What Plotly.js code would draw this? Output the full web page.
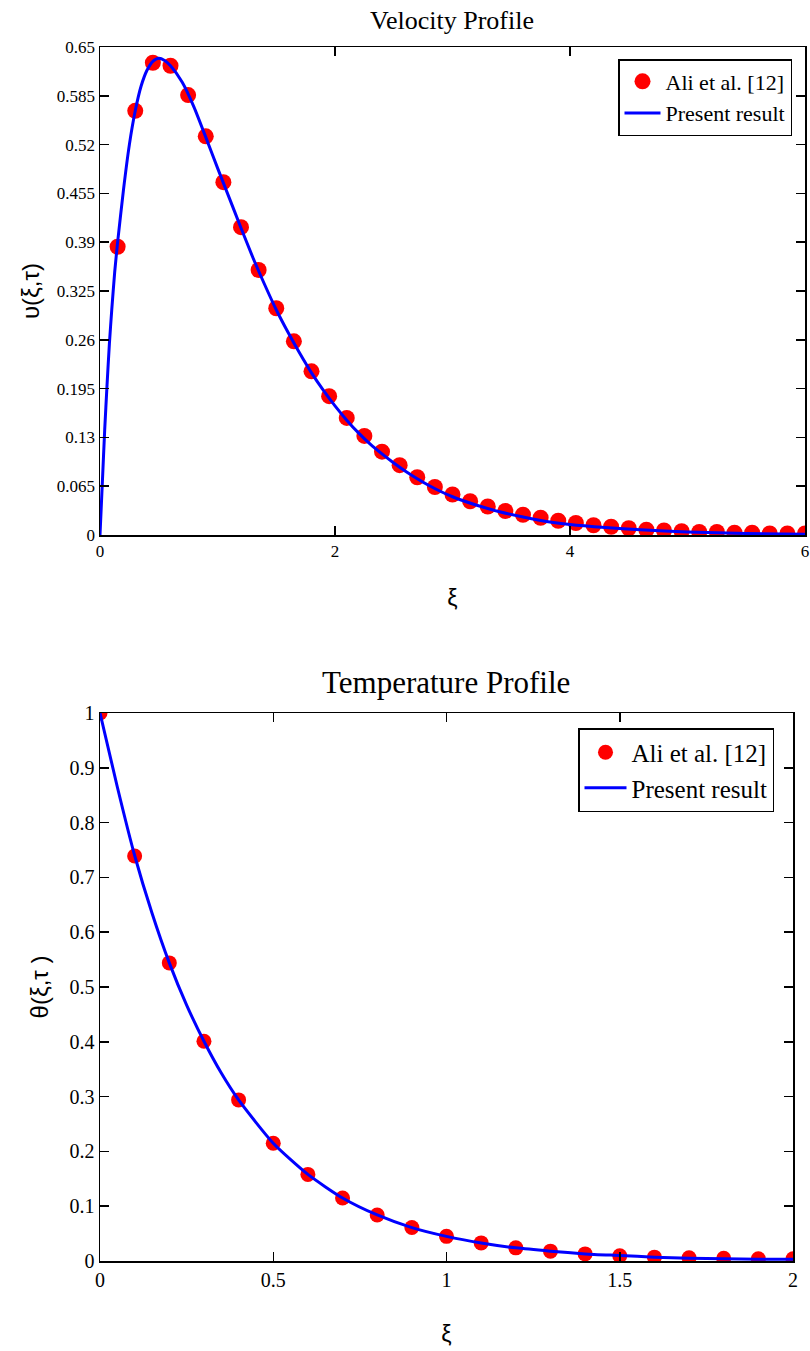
<!DOCTYPE html>
<html><head><meta charset="utf-8">
<script src="https://cdn.plot.ly/plotly-3.0.1.min.js"></script>
<style>html,body{margin:0;padding:0;background:#fff}</style>
</head><body><div id="chart" style="width:810px;height:1351px"></div>
<script>
// ---- Velocity profile data ----
const velAliXi = [0.15,0.3,0.45,0.6,0.75,0.9,1.05,1.2,1.35,1.5,1.65,1.8,1.95,2.1,2.25,2.4,2.55,2.7,2.85,3.0,
  3.15,3.3,3.45,3.6,3.75,3.9,4.05,4.2,4.35,4.5,4.65,4.8,4.95,5.1,5.25,5.4,5.55,5.7,5.85,6.0];
const velAliU = [0.384,0.565,0.629,0.625,0.586,0.531,0.470,0.410,0.353,0.302,0.258,0.218,0.185,0.156,0.132,0.111,0.093,0.077,0.064,0.054,
  0.045,0.038,0.032,0.027,0.023,0.019,0.016,0.013,0.011,0.009,0.007,0.006,0.005,0.004,0.004,0.003,0.003,0.002,0.002,0.002];
const velCurveXi = [0,0.02,0.04,0.06,0.08,0.1,0.125,0.15,0.2,0.25,0.3,0.35,0.4,0.45,0.5,0.55,0.6,0.7,0.8,0.9,1.0,
  1.1,1.2,1.3,1.4,1.5,1.6,1.7,1.8,1.9,2.0,2.1,2.2,2.3,2.4,2.5,2.6,2.7,2.8,2.9,3.0,3.2,3.4,3.6,3.8,4.0,4.3,4.6,5.0,5.5,6.0];
const velCurveU = [0,0.07,0.14,0.2,0.255,0.3,0.35,0.39,0.46,0.52,0.565,0.598,0.619,0.631,0.635,0.632,0.625,0.603,0.570,0.530,0.489,
  0.449,0.409,0.370,0.334,0.300,0.270,0.242,0.216,0.193,0.172,0.153,0.136,0.121,0.108,0.096,0.085,0.075,0.066,0.058,0.051,0.040,0.031,0.024,0.018,0.014,0.010,0.007,0.004,0.002,0.001];
const velXTicks = [0,2,4,6];
const velYTickVals = [0,0.065,0.13,0.195,0.26,0.325,0.39,0.455,0.52,0.585,0.65];
const velYTickText = ['0','0.065','0.13','0.195','0.26','0.325','0.39','0.455','0.52','0.585','0.65'];

// ---- Temperature profile data ----
const tempAliXi = [0,0.1,0.2,0.3,0.4,0.5,0.6,0.7,0.8,0.9,1.0,1.1,1.2,1.3,1.4,1.5,1.6,1.7,1.8,1.9,2.0];
const tempAliTheta = [1.0,0.739,0.544,0.401,0.294,0.215,0.158,0.115,0.084,0.061,0.045,0.033,0.024,0.018,0.013,0.0095,0.007,0.006,0.005,0.004,0.004];
const tempCurveXi = [0,0.05,0.1,0.15,0.2,0.25,0.3,0.35,0.4,0.5,0.6,0.7,0.8,0.9,1.0,1.1,1.2,1.3,1.4,1.5,1.6,1.7,1.8,1.9,2.0];
const tempCurveTheta = [1,0.865,0.74,0.635,0.544,0.467,0.401,0.343,0.294,0.215,0.158,0.115,0.084,0.061,0.045,0.033,0.024,0.018,0.013,0.010,0.007,0.005,0.004,0.003,0.003];
const tempXTicks = [0,0.5,1,1.5,2];
const tempXTickText = ['0','0.5','1','1.5','2'];
const tempYTicks = [0,0.1,0.2,0.3,0.4,0.5,0.6,0.7,0.8,0.9,1];
const tempYTickText = ['0','0.1','0.2','0.3','0.4','0.5','0.6','0.7','0.8','0.9','1'];

const seriesNames = ['Ali et al. [12]', 'Present result'];
const titles = ['Velocity Profile', 'Temperature Profile'];

const SERIF = 'Liberation Serif, Times New Roman, serif';
const SANS = 'Liberation Sans, Arial, sans-serif';

const traces = [
  {x: velAliXi, y: velAliU, xaxis:'x', yaxis:'y', mode:'markers', name: seriesNames[0], legend:'legend',
   marker:{color:'#ff0000', size:16}},
  {x: velCurveXi, y: velCurveU, xaxis:'x', yaxis:'y', mode:'lines', name: seriesNames[1], legend:'legend',
   line:{color:'#0000ff', width:3, shape:'spline', smoothing:0.6}},
  {x: tempAliXi, y: tempAliTheta, xaxis:'x2', yaxis:'y2', mode:'markers', name: seriesNames[0], legend:'legend2',
   marker:{color:'#ff0000', size:15}},
  {x: tempCurveXi, y: tempCurveTheta, xaxis:'x2', yaxis:'y2', mode:'lines', name: seriesNames[1], legend:'legend2',
   line:{color:'#0000ff', width:3, shape:'spline', smoothing:0.6}}
];

function axisBase(extra) {
  return Object.assign({
    showline:true, mirror:'ticks', linecolor:'#000', linewidth:1.5,
    ticks:'inside', ticklen:9, tickwidth:1.5, tickcolor:'#000',
    showgrid:false, zeroline:false, automargin:false, fixedrange:true
  }, extra);
}

const layout = {
  width:810, height:1351,
  margin:{l:100, r:5, t:47, b:90},
  paper_bgcolor:'#fff', plot_bgcolor:'#fff',
  showlegend:true,
  title:{text: titles[0], font:{family:SERIF, size:26, color:'#000'},
         xref:'container', yref:'container', x:452/810, y:(1351-20)/1351, xanchor:'center', yanchor:'middle'},
  xaxis: axisBase({domain:[0,1], anchor:'y', range:[0,6], tickmode:'array', tickvals:velXTicks,
    tickfont:{family:SERIF, size:17, color:'#000'},
    title:{text:'ξ', font:{family:SANS, size:23, color:'#000'}, standoff:30}}),
  yaxis: axisBase({domain:[0.598,1], anchor:'x', range:[0,0.65], tickmode:'array', tickvals:velYTickVals, ticktext:velYTickText,
    tickfont:{family:SERIF, size:17, color:'#000'},
    title:{text:'υ(ξ,τ)', font:{family:SANS, size:24, color:'#000'}, standoff:10}}),
  xaxis2: axisBase({domain:[0,0.983], anchor:'y2', range:[0,2], tickmode:'array', tickvals:tempXTicks, ticktext:tempXTickText,
    tickfont:{family:SERIF, size:20, color:'#000'},
    title:{text:'ξ', font:{family:SANS, size:23, color:'#000'}, standoff:36}}),
  yaxis2: axisBase({domain:[0,0.4514], anchor:'x2', range:[0,1], tickmode:'array', tickvals:tempYTicks, ticktext:tempYTickText,
    tickfont:{family:SERIF, size:20, color:'#000'},
    title:{text:'θ(ξ,τ )', font:{family:SANS, size:24, color:'#000'}, standoff:14}}),
  legend:{x:(792-100)/705, y:(1261-59)/1214, xanchor:'right', yanchor:'top', xref:'paper', yref:'paper',
    bgcolor:'#fff', bordercolor:'#000', borderwidth:1.5, font:{family:SERIF, size:22, color:'#000'},
    tracegroupgap:0, itemwidth:36},
  legend2:{x:(774-100)/705, y:(1261-728)/1214, xanchor:'right', yanchor:'top', xref:'paper', yref:'paper',
    bgcolor:'#fff', bordercolor:'#000', borderwidth:1.5, font:{family:SERIF, size:25, color:'#000'},
    tracegroupgap:0, itemwidth:42},
  annotations:[
    {text: titles[1], xref:'paper', yref:'paper', x:(446-100)/705, y:(1261-682)/1214, xanchor:'center', yanchor:'middle',
     showarrow:false, font:{family:SERIF, size:31, color:'#000'}}
  ]
};

Plotly.newPlot('chart', traces, layout, {displayModeBar:false, staticPlot:true});
</script>
</body></html>
